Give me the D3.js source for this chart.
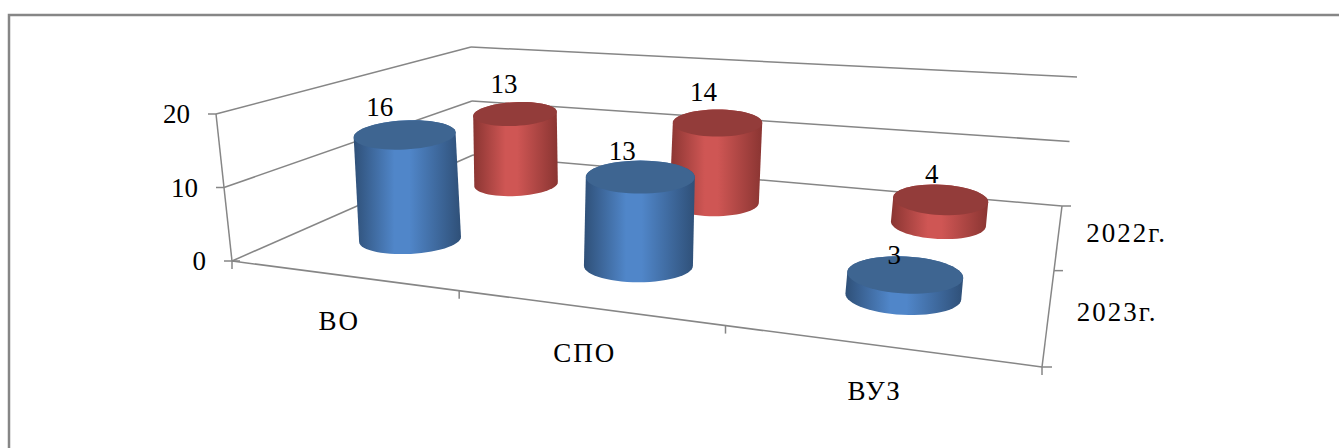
<!DOCTYPE html>
<html>
<head>
<meta charset="utf-8">
<script src="https://cdnjs.cloudflare.com/ajax/libs/d3/7.8.5/d3.min.js"></script>
<style>
    html, body { margin: 0; padding: 0; background: #fff; overflow: hidden; }
    text { font-family: "Liberation Serif", serif; font-size: 27px; fill: #000; }
    .wide { letter-spacing: 2px; }
</style>
</head>
<body>
<div id="chart"></div>
<script>
var categories = ['ВО', 'СПО', 'ВУЗ'];
var seriesNames = ['2023г.', '2022г.'];
var values2023 = [16, 13, 3];
var values2022 = [13, 14, 4];
var valueTicks = [0, 10, 20];

var width = 1339, height = 448;
var axisColor = '#868686';

// corners of the chart box as seen on the screen
var floorA = [232, 261], floorB = [1042, 367], floorC = [1062, 206], floorD = [473, 155];
var riseA = [-16, -147], riseB = [20, -165], riseC = [15, -129], riseD = [-2, -108];

var svg = d3.select('#chart').append('svg')
    .attr('width', width)
    .attr('height', height);

var defs = svg.append('defs');

var xScale = d3.scaleBand().domain(categories).range([0, 1]);
var zScale = d3.scaleBand().domain(seriesNames).range([0, 1]);
var yScale = d3.scaleLinear().domain([0, 20]).range([0, 1]);

// cylinder ellipses on the screen, by position on the floor
var rxScale = d3.scaleLinear().domain([1 / 6, 5 / 6]).range([51, 58]);
var ryScale = d3.scaleLinear().domain([1 / 6, 5 / 6]).range([14.5, 18.5]);
var tiltScale = d3.scaleLinear().domain([1 / 6, 5 / 6]).range([-3, 3]);
var shiftScale = d3.scaleLinear().domain([1 / 6, 5 / 6]).range([0, 3]);
var depthScale = d3.scaleLinear().domain([0.25, 0.75]).range([1, 0.82]);
// the columns stand a little lower than the wall gridlines
var columnScale = d3.scaleLinear().domain([0.25, 0.75]).range([0.93, 0.89]);

// unit square -> floor quad, projective
var homography = (function () {
    var dx1 = floorB[0] - floorC[0], dx2 = floorD[0] - floorC[0], sx = floorA[0] - floorB[0] + floorC[0] - floorD[0];
    var dy1 = floorB[1] - floorC[1], dy2 = floorD[1] - floorC[1], sy = floorA[1] - floorB[1] + floorC[1] - floorD[1];
    var det = dx1 * dy2 - dx2 * dy1;
    var g = (sx * dy2 - dx2 * sy) / det;
    var h = (dx1 * sy - sx * dy1) / det;
    return {
        a: floorB[0] - floorA[0] + g * floorB[0], b: floorD[0] - floorA[0] + h * floorD[0], c: floorA[0],
        d: floorB[1] - floorA[1] + g * floorB[1], e: floorD[1] - floorA[1] + h * floorD[1], f: floorA[1],
        g: g, h: h
    };
})();

function project(u, v, value) {
    var m = homography;
    var w = m.g * u + m.h * v + 1;
    var px = (m.a * u + m.b * v + m.c) / w;
    var py = (m.d * u + m.e * v + m.f) / w;
    var t = yScale(value);
    var riseX = (1 - u) * ((1 - v) * riseA[0] + v * riseD[0]) + u * ((1 - v) * riseB[0] + v * riseC[0]);
    var riseY = (1 - u) * ((1 - v) * riseA[1] + v * riseD[1]) + u * ((1 - v) * riseB[1] + v * riseC[1]);
    return [px + riseX * t, py + riseY * t];
}

function drawLine(p, q) {
    svg.append('line')
        .attr('x1', p[0]).attr('y1', p[1])
        .attr('x2', q[0]).attr('y2', q[1])
        .attr('stroke', axisColor)
        .attr('stroke-width', 1.5);
}

// outer frame
svg.append('path')
    .attr('d', 'M9,' + height + 'V15H' + width)
    .attr('fill', 'none')
    .attr('stroke', '#868686')
    .attr('stroke-width', 2.5);

// walls
valueTicks.forEach(function (tick) {
    var front = project(0, 0, tick), back = project(0, 1, tick), right = project(1, 1, tick);
    drawLine(front, back);
    drawLine(back, right);
    drawLine([front[0] - 8, front[1]], front);
    svg.append('text')
        .attr('x', front[0] - 26)
        .attr('y', front[1] + 9)
        .attr('text-anchor', 'end')
        .text(tick);
});
drawLine(project(0, 0, 0), project(0, 0, 20));

// floor edges and ticks
drawLine(project(0, 0, 0), project(1, 0, 0));
drawLine(project(1, 0, 0), project(1, 1, 0));
drawLine(project(0, 0, 0), [floorA[0] + 8, floorA[1]]);
categories.forEach(function (cat) {
    var edge = project(xScale(cat), 0, 0);
    drawLine(edge, [edge[0], edge[1] + 8]);
});
drawLine(floorB, [floorB[0], floorB[1] + 8]);
drawLine(floorB, [floorB[0] + 10, floorB[1]]);
seriesNames.forEach(function (name) {
    var edge = project(1, zScale(name) + zScale.bandwidth(), 0);
    drawLine(edge, [edge[0] + 9, edge[1]]);
});

// category and series labels
categories.forEach(function (cat) {
    var p = project(xScale(cat) + xScale.bandwidth() / 2, 0, 0);
    svg.append('text')
        .attr('class', 'wide')
        .attr('x', p[0] - 2)
        .attr('y', p[1] + 55)
        .attr('text-anchor', 'middle')
        .text(cat);
});
seriesNames.forEach(function (name) {
    var p = project(1, zScale(name) + zScale.bandwidth() / 2, 0);
    svg.append('text')
        .attr('class', 'wide')
        .attr('x', p[0] + 28)
        .attr('y', p[1] + 7)
        .text(name);
});

// cylinders, back row first so the front row covers it
var palettes = {
    '2023г.': {top: '#3e6591', edge: '#2f5078', mid: '#5086c9'},
    '2022г.': {top: '#933c3a', edge: '#8a3532', mid: '#cf5654'}
};
var rows = [
    {name: '2022г.', values: values2022, nudge: [[-11, -30], [-14, -31], [-9, -26]]},
    {name: '2023г.', values: values2023, nudge: [[-25, -28], [-18, -26], [-11, -20]]}
];
var angles = d3.range(0, 360, 6).map(function (d) { return d * Math.PI / 180; });
var lineFn = d3.line().curve(d3.curveLinearClosed);
var labels = [];

rows.forEach(function (row) {
    var pal = palettes[row.name];
    row.values.forEach(function (value, i) {
        var cu = xScale(categories[i]) + xScale.bandwidth() / 2;
        var cv = zScale(row.name) + zScale.bandwidth() / 2;
        var rx = rxScale(cu) * depthScale(cv);
        var ry = ryScale(cu) * depthScale(cv);
        var tilt = tiltScale(cu) * Math.PI / 180;
        var shift = shiftScale(cu);
        var standing = value * columnScale(cv);
        var ring = function (val) {
            var c = project(cu, cv, val);
            return angles.map(function (a) {
                var ex = rx * Math.cos(a), ey = ry * Math.sin(a);
                return [c[0] + shift + ex * Math.cos(tilt) - ey * Math.sin(tilt),
                    c[1] + ex * Math.sin(tilt) + ey * Math.cos(tilt)];
            });
        };
        var base = ring(0), top = ring(standing);
        var hull = d3.polygonHull(base.concat(top));
        var xRange = d3.extent(hull, function (p) { return p[0]; });
        var id = 'grad-' + row.name.slice(0, 4) + '-' + i;
        var grad = defs.append('linearGradient')
            .attr('id', id)
            .attr('gradientUnits', 'userSpaceOnUse')
            .attr('x1', xRange[0]).attr('x2', xRange[1])
            .attr('y1', 0).attr('y2', 0);
        grad.append('stop').attr('offset', '0%').attr('stop-color', pal.edge);
        grad.append('stop').attr('offset', '38%').attr('stop-color', pal.mid);
        grad.append('stop').attr('offset', '52%').attr('stop-color', pal.mid);
        grad.append('stop').attr('offset', '100%').attr('stop-color', pal.edge);

        svg.append('path')
            .attr('d', lineFn(hull))
            .attr('fill', 'url(#' + id + ')');
        svg.append('path')
            .attr('d', lineFn(top))
            .attr('fill', pal.top);

        var c = project(cu, cv, standing);
        labels.push({x: c[0] + shift + row.nudge[i][0], y: c[1] + row.nudge[i][1], value: value});
    });
});

// data labels go over everything
labels.forEach(function (d) {
    svg.append('text')
        .attr('x', d.x)
        .attr('y', d.y + 9)
        .attr('text-anchor', 'middle')
        .text(d.value);
});
</script>
</body>
</html>
